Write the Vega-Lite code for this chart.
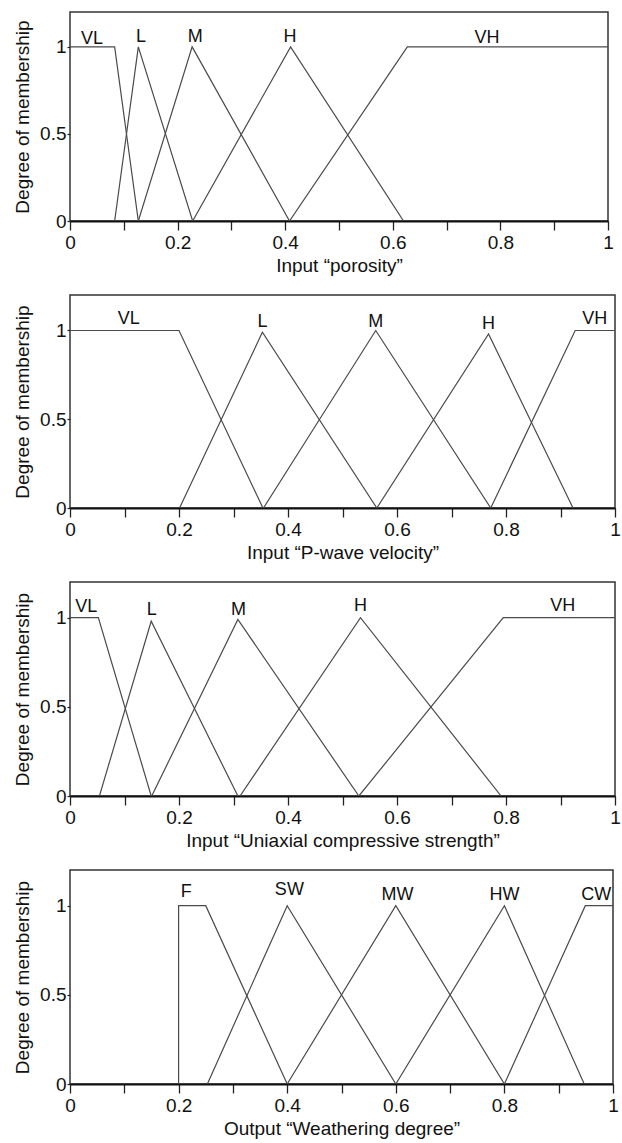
{
  "$schema": "https://vega.github.io/schema/vega-lite/v6.json",
  "padding": {"left": 12, "top": 11, "right": 1, "bottom": 0},
  "background": "white",
  "config": {
    "font": "Liberation Sans",
    "view": {"stroke": "#333333", "strokeWidth": 1.5},
    "axis": {
      "labelFont": "Liberation Sans", "titleFont": "Liberation Sans",
      "labelFontSize": 19, "titleFontSize": 19, "titleFontWeight": "normal",
      "labelColor": "#111111", "titleColor": "#111111", "grid": false,
      "tickColor": "#222222", "domainColor": "#111111"
    },
    "axisX": {"tickSize": 9, "labelPadding": 3, "titlePadding": 4, "domainWidth": 2, "tickWidth": 1.3, "labelFlush": false},
    "axisY": {"tickSize": 3, "labelPadding": 1, "domain": false, "tickWidth": 1.2, "labelFlush": false, "titlePadding": 7}
  },
  "datasets": {
    "curves": [
      {"panel": 1, "set": "VL", "i": 1, "x": 0, "y": 1},
      {"panel": 1, "set": "VL", "i": 2, "x": 0.083, "y": 1},
      {"panel": 1, "set": "VL", "i": 3, "x": 0.127, "y": 0},
      {"panel": 1, "set": "L", "i": 1, "x": 0.083, "y": 0},
      {"panel": 1, "set": "L", "i": 2, "x": 0.127, "y": 1},
      {"panel": 1, "set": "L", "i": 3, "x": 0.228, "y": 0},
      {"panel": 1, "set": "M", "i": 1, "x": 0.127, "y": 0},
      {"panel": 1, "set": "M", "i": 2, "x": 0.227, "y": 1},
      {"panel": 1, "set": "M", "i": 3, "x": 0.408, "y": 0},
      {"panel": 1, "set": "H", "i": 1, "x": 0.228, "y": 0},
      {"panel": 1, "set": "H", "i": 2, "x": 0.41, "y": 1},
      {"panel": 1, "set": "H", "i": 3, "x": 0.62, "y": 0},
      {"panel": 1, "set": "VH", "i": 1, "x": 0.408, "y": 0},
      {"panel": 1, "set": "VH", "i": 2, "x": 0.627, "y": 1},
      {"panel": 1, "set": "VH", "i": 3, "x": 1, "y": 1},

      {"panel": 2, "set": "VL", "i": 1, "x": 0, "y": 1},
      {"panel": 2, "set": "VL", "i": 2, "x": 0.2, "y": 1},
      {"panel": 2, "set": "VL", "i": 3, "x": 0.354, "y": 0},
      {"panel": 2, "set": "L", "i": 1, "x": 0.201, "y": 0},
      {"panel": 2, "set": "L", "i": 2, "x": 0.353, "y": 0.99},
      {"panel": 2, "set": "L", "i": 3, "x": 0.563, "y": 0},
      {"panel": 2, "set": "M", "i": 1, "x": 0.355, "y": 0},
      {"panel": 2, "set": "M", "i": 2, "x": 0.561, "y": 1},
      {"panel": 2, "set": "M", "i": 3, "x": 0.772, "y": 0},
      {"panel": 2, "set": "H", "i": 1, "x": 0.563, "y": 0},
      {"panel": 2, "set": "H", "i": 2, "x": 0.768, "y": 0.98},
      {"panel": 2, "set": "H", "i": 3, "x": 0.923, "y": 0},
      {"panel": 2, "set": "VH", "i": 1, "x": 0.772, "y": 0},
      {"panel": 2, "set": "VH", "i": 2, "x": 0.927, "y": 1},
      {"panel": 2, "set": "VH", "i": 3, "x": 1, "y": 1},

      {"panel": 3, "set": "VL", "i": 1, "x": 0, "y": 1},
      {"panel": 3, "set": "VL", "i": 2, "x": 0.052, "y": 1},
      {"panel": 3, "set": "VL", "i": 3, "x": 0.149, "y": 0},
      {"panel": 3, "set": "L", "i": 1, "x": 0.054, "y": 0},
      {"panel": 3, "set": "L", "i": 2, "x": 0.149, "y": 0.98},
      {"panel": 3, "set": "L", "i": 3, "x": 0.308, "y": 0},
      {"panel": 3, "set": "M", "i": 1, "x": 0.15, "y": 0},
      {"panel": 3, "set": "M", "i": 2, "x": 0.308, "y": 0.99},
      {"panel": 3, "set": "M", "i": 3, "x": 0.53, "y": 0},
      {"panel": 3, "set": "H", "i": 1, "x": 0.312, "y": 0},
      {"panel": 3, "set": "H", "i": 2, "x": 0.533, "y": 1},
      {"panel": 3, "set": "H", "i": 3, "x": 0.791, "y": 0},
      {"panel": 3, "set": "VH", "i": 1, "x": 0.53, "y": 0},
      {"panel": 3, "set": "VH", "i": 2, "x": 0.795, "y": 1},
      {"panel": 3, "set": "VH", "i": 3, "x": 1, "y": 1},

      {"panel": 4, "set": "F", "i": 1, "x": 0.2, "y": 0},
      {"panel": 4, "set": "F", "i": 2, "x": 0.2, "y": 1},
      {"panel": 4, "set": "F", "i": 3, "x": 0.25, "y": 1},
      {"panel": 4, "set": "F", "i": 4, "x": 0.4, "y": 0},
      {"panel": 4, "set": "SW", "i": 1, "x": 0.253, "y": 0},
      {"panel": 4, "set": "SW", "i": 2, "x": 0.4, "y": 1},
      {"panel": 4, "set": "SW", "i": 3, "x": 0.6, "y": 0},
      {"panel": 4, "set": "MW", "i": 1, "x": 0.4, "y": 0},
      {"panel": 4, "set": "MW", "i": 2, "x": 0.6, "y": 1},
      {"panel": 4, "set": "MW", "i": 3, "x": 0.8, "y": 0},
      {"panel": 4, "set": "HW", "i": 1, "x": 0.6, "y": 0},
      {"panel": 4, "set": "HW", "i": 2, "x": 0.8, "y": 1},
      {"panel": 4, "set": "HW", "i": 3, "x": 0.947, "y": 0},
      {"panel": 4, "set": "CW", "i": 1, "x": 0.8, "y": 0},
      {"panel": 4, "set": "CW", "i": 2, "x": 0.949, "y": 1},
      {"panel": 4, "set": "CW", "i": 3, "x": 1, "y": 1}
    ],
    "labels": [
      {"panel": 1, "text": "VL", "x": 0.041, "y": 1.015},
      {"panel": 1, "text": "L", "x": 0.132, "y": 1.025},
      {"panel": 1, "text": "M", "x": 0.233, "y": 1.025},
      {"panel": 1, "text": "H", "x": 0.409, "y": 1.03},
      {"panel": 1, "text": "VH", "x": 0.775, "y": 1.02},
      {"panel": 2, "text": "VL", "x": 0.108, "y": 1.037},
      {"panel": 2, "text": "L", "x": 0.353, "y": 1.02},
      {"panel": 2, "text": "M", "x": 0.561, "y": 1.02},
      {"panel": 2, "text": "H", "x": 0.768, "y": 1.01},
      {"panel": 2, "text": "VH", "x": 0.963, "y": 1.037},
      {"panel": 3, "text": "VL", "x": 0.03, "y": 1.03},
      {"panel": 3, "text": "L", "x": 0.15, "y": 1.017},
      {"panel": 3, "text": "M", "x": 0.309, "y": 1.017},
      {"panel": 3, "text": "H", "x": 0.533, "y": 1.035},
      {"panel": 3, "text": "VH", "x": 0.904, "y": 1.035},
      {"panel": 4, "text": "F", "x": 0.214, "y": 1.05},
      {"panel": 4, "text": "SW", "x": 0.404, "y": 1.06},
      {"panel": 4, "text": "MW", "x": 0.603, "y": 1.03},
      {"panel": 4, "text": "HW", "x": 0.8, "y": 1.03},
      {"panel": 4, "text": "CW", "x": 0.969, "y": 1.03}
    ]
  },
  "vconcat": [
    {
      "width": 538, "height": 209,
      "layer": [
        {"data": {"name": "curves"}, "transform": [{"filter": "datum.panel === 1"}],
         "mark": {"type": "line", "color": "#4a4a4a", "strokeWidth": 1.2, "clip": true},
         "encoding": {
           "x": {"field": "x", "type": "quantitative", "scale": {"domain": [0, 1], "nice": false}, "title": "Input \u201cporosity\u201d",
                 "axis": {"values": [0,0.1,0.2,0.3,0.4,0.5,0.6,0.7,0.8,0.9,1], "format": ".1~f", "labelExpr": "round(datum.value*10) % 2 === 0 ? datum.label : ''"}},
           "y": {"field": "y", "type": "quantitative", "scale": {"domain": [0, 1.2], "nice": false}, "title": "Degree of membership",
                 "axis": {"values": [0, 0.5, 1], "format": ".1~f"}},
           "detail": {"field": "set"}, "order": {"field": "i"}}},
        {"data": {"name": "labels"}, "transform": [{"filter": "datum.panel === 1"}],
         "mark": {"type": "text", "fontSize": 18, "baseline": "alphabetic", "align": "center", "color": "#111111"},
         "encoding": {"x": {"field": "x", "type": "quantitative"}, "y": {"field": "y", "type": "quantitative"}, "text": {"field": "text"}}}
      ]
    },
    {
      "width": 545, "height": 213,
      "layer": [
        {"data": {"name": "curves"}, "transform": [{"filter": "datum.panel === 2"}],
         "mark": {"type": "line", "color": "#4a4a4a", "strokeWidth": 1.2, "clip": true},
         "encoding": {
           "x": {"field": "x", "type": "quantitative", "scale": {"domain": [0, 1], "nice": false}, "title": "Input \u201cP-wave velocity\u201d",
                 "axis": {"values": [0,0.1,0.2,0.3,0.4,0.5,0.6,0.7,0.8,0.9,1], "format": ".1~f", "labelExpr": "round(datum.value*10) % 2 === 0 ? datum.label : ''"}},
           "y": {"field": "y", "type": "quantitative", "scale": {"domain": [0, 1.2], "nice": false}, "title": "Degree of membership",
                 "axis": {"values": [0, 0.5, 1], "format": ".1~f"}},
           "detail": {"field": "set"}, "order": {"field": "i"}}},
        {"data": {"name": "labels"}, "transform": [{"filter": "datum.panel === 2"}],
         "mark": {"type": "text", "fontSize": 18, "baseline": "alphabetic", "align": "center", "color": "#111111"},
         "encoding": {"x": {"field": "x", "type": "quantitative"}, "y": {"field": "y", "type": "quantitative"}, "text": {"field": "text"}}}
      ]
    },
    {
      "width": 545, "height": 214,
      "layer": [
        {"data": {"name": "curves"}, "transform": [{"filter": "datum.panel === 3"}],
         "mark": {"type": "line", "color": "#4a4a4a", "strokeWidth": 1.2, "clip": true},
         "encoding": {
           "x": {"field": "x", "type": "quantitative", "scale": {"domain": [0, 1], "nice": false}, "title": "Input \u201cUniaxial compressive strength\u201d",
                 "axis": {"values": [0,0.1,0.2,0.3,0.4,0.5,0.6,0.7,0.8,0.9,1], "format": ".1~f", "labelExpr": "round(datum.value*10) % 2 === 0 ? datum.label : ''"}},
           "y": {"field": "y", "type": "quantitative", "scale": {"domain": [0, 1.2], "nice": false}, "title": "Degree of membership",
                 "axis": {"values": [0, 0.5, 1], "format": ".1~f"}},
           "detail": {"field": "set"}, "order": {"field": "i"}}},
        {"data": {"name": "labels"}, "transform": [{"filter": "datum.panel === 3"}],
         "mark": {"type": "text", "fontSize": 18, "baseline": "alphabetic", "align": "center", "color": "#111111"},
         "encoding": {"x": {"field": "x", "type": "quantitative"}, "y": {"field": "y", "type": "quantitative"}, "text": {"field": "text"}}}
      ]
    },
    {
      "width": 543, "height": 214,
      "layer": [
        {"data": {"name": "curves"}, "transform": [{"filter": "datum.panel === 4"}],
         "mark": {"type": "line", "color": "#4a4a4a", "strokeWidth": 1.2, "clip": true},
         "encoding": {
           "x": {"field": "x", "type": "quantitative", "scale": {"domain": [0, 1], "nice": false}, "title": "Output \u201cWeathering degree\u201d",
                 "axis": {"values": [0,0.1,0.2,0.3,0.4,0.5,0.6,0.7,0.8,0.9,1], "format": ".1~f", "labelExpr": "round(datum.value*10) % 2 === 0 ? datum.label : ''"}},
           "y": {"field": "y", "type": "quantitative", "scale": {"domain": [0, 1.2], "nice": false}, "title": "Degree of membership",
                 "axis": {"values": [0, 0.5, 1], "format": ".1~f"}},
           "detail": {"field": "set"}, "order": {"field": "i"}}},
        {"data": {"name": "labels"}, "transform": [{"filter": "datum.panel === 4"}],
         "mark": {"type": "text", "fontSize": 18, "baseline": "alphabetic", "align": "center", "color": "#111111"},
         "encoding": {"x": {"field": "x", "type": "quantitative"}, "y": {"field": "y", "type": "quantitative"}, "text": {"field": "text"}}}
      ]
    }
  ],
  "spacing": 18
}
